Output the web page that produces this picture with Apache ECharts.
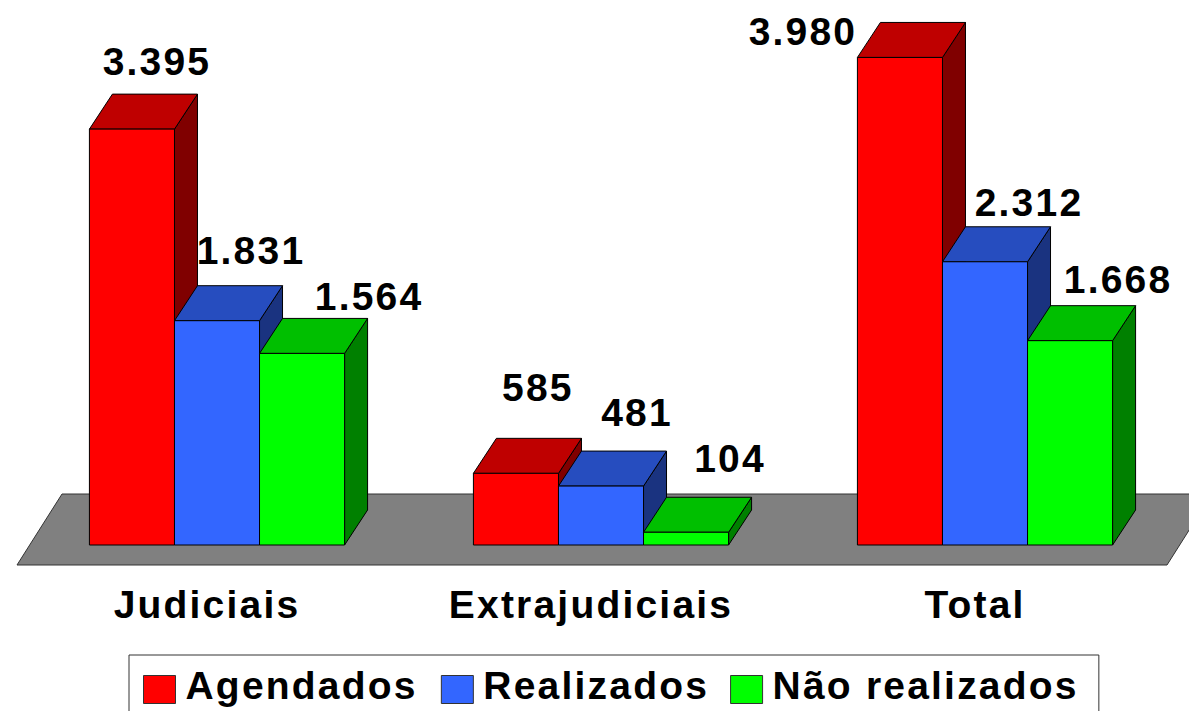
<!DOCTYPE html>
<html>
<head>
<meta charset="utf-8">
<script src="https://cdn.jsdelivr.net/npm/echarts@6/dist/echarts.min.js"></script>
<style>
  html, body { margin: 0; padding: 0; background: #fff; overflow: hidden; }
  #chart { width: 1189px; height: 711px; }
  /* the original text is widely tracked */
  #chart text { letter-spacing: 2.2px; }
</style>
</head>
<body>
<div id="chart"></div>
<script>
// chart values
const categories = ['Judiciais', 'Extrajudiciais', 'Total']
const agendados = [3395, 585, 3980]
const realizados = [1831, 481, 2312]
const naoRealizados = [1564, 104, 1668]

// hand placed labels in the original: shift from the bar's back top edge [dx, dy]
const agendadosLabelShift = [[2, -33], [-1, -51], [-120, 9]]
const realizadosLabelShift = [[11, -35], [13, -39], [21, -24]]
const naoRealizadosLabelShift = [[44, -22], [21, -39], [25, -26]]

const FONT = 'bold 39px "Liberation Sans", Arial, sans-serif'
const DEPTH_X = 23
const DEPTH_Y = 35
const BAR_RATIO = 0.2215

const chart = echarts.init(document.getElementById('chart'), null, { renderer: 'svg' })

// one 3d box: front, top and side faces + the value label
function boxRenderer(index, colors, shifts) {
  return function (params, api) {
    const [cx, top] = api.coord([api.value(0), api.value(1)])
    const [, base] = api.coord([api.value(0), 0])
    const w = api.size([1, 0])[0] * BAR_RATIO
    const x = cx - 1.5 * w + index * w
    const line = { stroke: '#000', lineWidth: 1 }
    const shift = shifts[params.dataIndex]
    return {
      type: 'group',
      children: [
        {
          type: 'polygon',
          shape: { points: [[x + w, top], [x + w + DEPTH_X, top - DEPTH_Y], [x + w + DEPTH_X, base - DEPTH_Y], [x + w, base]] },
          style: { fill: colors.side, ...line }
        },
        {
          type: 'polygon',
          shape: { points: [[x, top], [x + w, top], [x + w + DEPTH_X, top - DEPTH_Y], [x + DEPTH_X, top - DEPTH_Y]] },
          style: { fill: colors.top, ...line }
        },
        {
          type: 'rect',
          shape: { x: x, y: top, width: w, height: base - top },
          style: { fill: colors.front, ...line }
        },
        {
          type: 'text',
          z2: 100,
          style: {
            text: api.value(1).toLocaleString('pt-BR'),
            x: x + w / 2 + DEPTH_X + shift[0],
            y: top - DEPTH_Y + shift[1],
            align: 'center',
            verticalAlign: 'middle',
            font: FONT,
            fill: '#000'
          }
        }
      ]
    }
  }
}

// gray floor under the bars, follows the grid
function floorRenderer(params) {
  const g = params.coordSys
  const bottom = g.y + g.height
  return {
    type: 'polygon',
    shape: {
      points: [
        [g.x - 8, bottom + 20],
        [g.x + 37, bottom - 51],
        [g.x + g.width + 35, bottom - 51],
        [g.x + g.width - 10, bottom + 20]
      ]
    },
    style: { fill: '#808080', stroke: '#333', lineWidth: 1 }
  }
}

function boxSeries(name, values, index, colors, shifts) {
  return {
    name: name,
    type: 'custom',
    renderItem: boxRenderer(index, colors, shifts),
    itemStyle: { color: colors.front },
    encode: { x: 0, y: 1 },
    data: values.map((v, i) => [i, v])
  }
}

const option = {
  animation: false,
  backgroundColor: '#fff',
  textStyle: { fontFamily: '"Liberation Sans", Arial, sans-serif' },
  grid: { left: 25, top: 55, width: 1152, height: 490 },
  xAxis: {
    type: 'category',
    data: categories,
    axisLine: { show: false },
    axisTick: { show: false },
    axisLabel: { color: '#000', fontSize: 39, fontWeight: 'bold', margin: 40, interval: 0, padding: [0, 20, 0, 0] }
  },
  yAxis: { type: 'value', min: 0, max: 4000, show: false },
  legend: {
    data: ['Agendados', 'Realizados', 'Não realizados'],
    left: 129,
    top: 655,
    orient: 'horizontal',
    selectedMode: false,
    icon: 'rect',
    itemWidth: 32,
    itemHeight: 28,
    itemGap: 43,
    padding: [11, 51, 24, 14],
    backgroundColor: '#fff',
    borderColor: '#333',
    borderWidth: 1,
    itemStyle: { borderColor: '#333', borderWidth: 1 },
    formatter: '{t|{name}}',
    textStyle: {
      color: '#000',
      padding: [0, 0, 0, 5],
      rich: { t: { color: '#000', fontSize: 39, fontWeight: 'bold', padding: [0, 0, 8, 0] } }
    }
  },
  series: [
    { type: 'custom', silent: true, renderItem: floorRenderer, data: [[0, 0]], encode: { x: 0, y: 1 } },
    boxSeries('Agendados', agendados, 0, { front: '#ff0000', top: '#bf0000', side: '#800000' }, agendadosLabelShift),
    boxSeries('Realizados', realizados, 1, { front: '#3366ff', top: '#264dbf', side: '#1a3380' }, realizadosLabelShift),
    boxSeries('Não realizados', naoRealizados, 2, { front: '#00ff00', top: '#00bf00', side: '#008000' }, naoRealizadosLabelShift)
  ]
}

chart.setOption(option)
</script>
</body>
</html>
